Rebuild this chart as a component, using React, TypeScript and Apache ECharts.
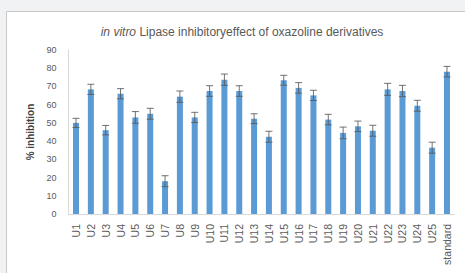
import React, { useEffect, useRef } from "react";
import * as echarts from "echarts";

const categories = ["U1","U2","U3","U4","U5","U6","U7","U8","U9","U10","U11","U12","U13","U14","U15","U16","U17","U18","U19","U20","U21","U22","U23","U24","U25","standard"];
const inhibition = [50, 68.4, 46, 66, 53, 55, 18, 64.4, 53, 67.5, 73.7, 67.5, 52.3, 42.4, 73.4, 69.2, 65.1, 51.8, 44.5, 48.1, 45.7, 68.4, 67.5, 59.4, 36.4, 78.1];
const errors = [2.5, 2.8, 2.6, 2.8, 3.2, 3, 3, 3.1, 2.8, 2.9, 3.1, 2.9, 2.7, 3, 2.7, 2.9, 2.8, 2.9, 3.2, 2.9, 3, 3.3, 3.1, 3, 3, 2.9];
const yTicks = { min: 0, max: 90, interval: 10 };

const FONT = "Liberation Sans";

export default function App() {
  const ref = useRef<HTMLDivElement>(null);
  useEffect(() => {
    const chart = echarts.init(ref.current!, null, { renderer: "svg" });
    const errData = inhibition.map((v, i) => [i, v - errors[i], v + errors[i]]);
    chart.setOption({
      animation: false,
      backgroundColor: "#f1f2f4",
      textStyle: { fontFamily: FONT },
      graphic: [
        {
          type: "rect",
          shape: { x: 6.5, y: 11.5, width: 470, height: 270 },
          style: { fill: "#ffffff", stroke: "#c8c8c8", lineWidth: 1 },
          z: -10,
          silent: true,
        },
      ],
      title: {
        text: "{i|in vitro} Lipase inhibitoryeffect of oxazoline derivatives",
        left: 237,
        textAlign: "center",
        top: 21,
        textStyle: {
          fontSize: 12,
          fontWeight: "normal",
          color: "#595959",
          fontFamily: FONT,
          rich: {
            i: { fontStyle: "italic", fontSize: 12, color: "#595959", fontFamily: FONT },
          },
        },
      },
      grid: { left: 68.6, right: 10.6, top: 50, bottom: 59, containLabel: false },
      xAxis: {
        type: "category",
        data: categories,
        axisLine: { show: true, lineStyle: { color: "#d9d9d9", width: 1 } },
        axisTick: { show: false },
        axisLabel: { rotate: 90, fontSize: 10.5, color: "#595959", margin: 10, fontFamily: FONT },
      },
      yAxis: {
        type: "value",
        min: yTicks.min,
        max: yTicks.max,
        interval: yTicks.interval,
        name: "% inhibition",
        nameLocation: "middle",
        nameGap: 33,
        nameTextStyle: { fontSize: 10, fontWeight: "bold", color: "#404040", fontFamily: FONT },
        axisLine: { show: true, lineStyle: { color: "#d9d9d9", width: 1 } },
        axisTick: { show: false },
        splitLine: { show: false },
        axisLabel: { fontSize: 9, color: "#595959", margin: 12, fontFamily: FONT },
      },
      series: [
        {
          type: "bar",
          data: inhibition,
          barWidth: 6,
          itemStyle: { color: "#5b9bd5" },
        },
        {
          type: "custom",
          data: errData,
          z: 10,
          renderItem: (params: any, api: any) => {
            const x = api.value(0);
            const lo = api.coord([x, api.value(1)]);
            const hi = api.coord([x, api.value(2)]);
            const hw = 3.5;
            const style = { stroke: "#595959", lineWidth: 1, opacity: 0.85 };
            return {
              type: "group",
              children: [
                { type: "line", shape: { x1: lo[0], y1: lo[1], x2: hi[0], y2: hi[1] }, style },
                { type: "line", shape: { x1: lo[0] - hw, y1: lo[1], x2: lo[0] + hw, y2: lo[1] }, style },
                { type: "line", shape: { x1: hi[0] - hw, y1: hi[1], x2: hi[0] + hw, y2: hi[1] }, style },
              ],
            };
          },
        },
      ],
    });
    return () => chart.dispose();
  }, []);
  return <div ref={ref} style={{ position: "fixed", left: 0, top: 0, width: 465, height: 273 }} />;
}
